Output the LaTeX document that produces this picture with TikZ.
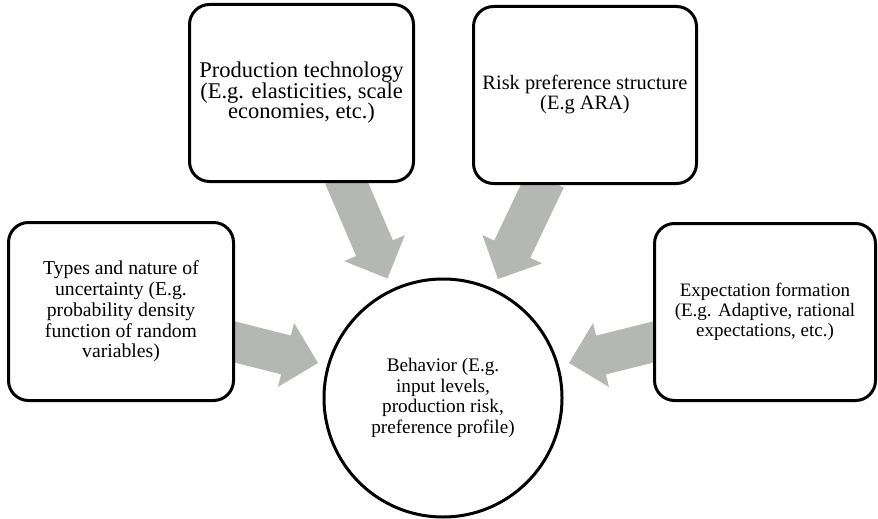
\documentclass[tikz,border=0pt]{standalone}
\usepackage{fontspec}
\setmainfont{Liberation Serif}
\usetikzlibrary{calc,backgrounds}
\definecolor{arrowgray}{RGB}{181,183,181}
\AtBeginDocument{\setlength{\lineskiplimit}{-100pt}}
\tikzset{
  box/.style={draw=black, line width=3pt, rounded corners=20pt, fill=white,
    inner sep=0pt, align=center},
  behcirc/.style={draw=black, line width=3pt, circle, fill=white,
    minimum size=238pt, inner sep=0pt, align=center},
  fatarrow/.style={fill=arrowgray, draw=none},
}
\newcommand\blockarrow[2]{%
  \coordinate (#1-#2-b) at ($(#2)!33pt!(#1)$);
  \fill[fatarrow]
    ($(#1)!20pt!90:(#2)$) --
    ($(#1-#2-b)!20pt!90:(#2)$) --
    ($(#1-#2-b)!33pt!90:(#2)$) --
    (#2) --
    ($(#1-#2-b)!33pt!-90:(#2)$) --
    ($(#1-#2-b)!20pt!-90:(#2)$) --
    ($(#1)!20pt!-90:(#2)$) -- cycle;}
\begin{document}
\begin{tikzpicture}[x=1pt,y=-1pt]
\useasboundingbox (0,0) rectangle (878,519);

\node[box, minimum width=225pt, minimum height=178pt,
  font=\fontsize{19.7}{20.7}\selectfont] (unc) at (121,311.5)
  {Types and nature of\\uncertainty (E.g.\\probability density\\function of random\\variables)};

\node[box, minimum width=224pt, minimum height=177pt,
  font=\fontsize{22.5}{20.5}\selectfont] (tech) at (301.5,93)
  {Production technology\\(E.g. elasticities, scale\\economies, etc.)};

\node[box, minimum width=223pt, minimum height=177pt,
  font=\fontsize{20.4}{20}\selectfont] (risk) at (585,95)
  {Risk preference structure\\(E.g ARA)};

\node[box, minimum width=221pt, minimum height=177pt,
  font=\fontsize{19}{19.8}\selectfont] (expe) at (765,312)
  {Expectation formation\\(E.g. Adaptive, rational\\expectations, etc.)};

\node[behcirc, font=\fontsize{19.2}{20.7}\selectfont] (beh) at (443,398)
  {Behavior (E.g.\\input levels,\\production risk,\\preference profile)};

\coordinate (sL) at (225,339.5);   \coordinate (tL) at (318,363);
\coordinate (sTM) at (343.6,176);  \coordinate (tTM) at (387.5,278.5);
\coordinate (sTR) at (545.7,179);  \coordinate (tTR) at (498,279);
\coordinate (sR) at (662.7,339.6); \coordinate (tR) at (569,363);

\begin{scope}[on background layer]
  \blockarrow{sL}{tL}
  \blockarrow{sTM}{tTM}
  \blockarrow{sTR}{tTR}
  \blockarrow{sR}{tR}
\end{scope}
\end{tikzpicture}
\end{document}
